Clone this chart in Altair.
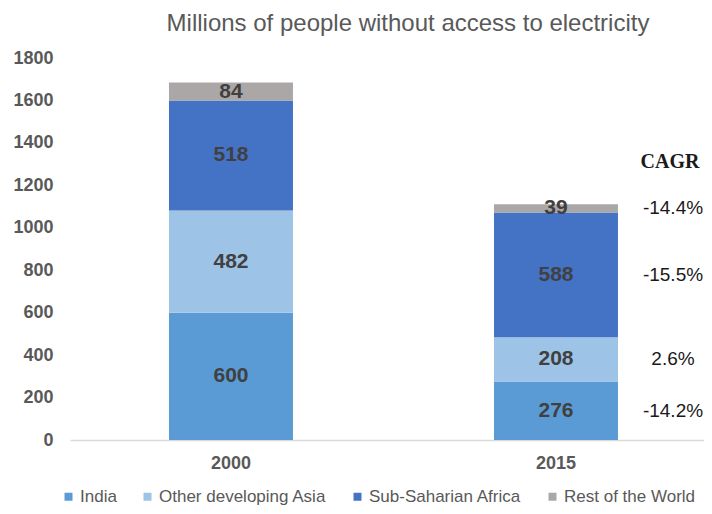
import altair as alt
import pandas as pd

years = ["2000", "2015"]
regions = ["India", "Other developing Asia", "Sub-Saharian Africa", "Rest of the World"]
values_2000 = [600, 482, 518, 84]
values_2015 = [276, 208, 588, 39]
cagr_labels = ["-14.2%", "2.6%", "-15.5%", "-14.4%"]
colors = ["#5B9BD5", "#9DC3E6", "#4472C4", "#ABA7A7"]
y_ticks = [0, 200, 400, 600, 800, 1000, 1200, 1400, 1600, 1800]

rows = []
for yr, vals in zip(years, [values_2000, values_2015]):
    base = 0
    for i, (reg, v) in enumerate(zip(regions, vals)):
        rows.append({"year": yr, "region": reg, "order": i, "value": v,
                     "start": base, "end": base + v, "mid": base + v / 2})
        base += v
df = pd.DataFrame(rows)

cagr_df = df[df["year"] == "2015"].copy()
cagr_df["cagr"] = cagr_labels
header_df = pd.DataFrame({"year": ["2015"], "y": [1310], "txt": ["CAGR"]})

FONT = "Liberation Sans"

x_enc = alt.X("year:N", title=None,
              scale=alt.Scale(paddingInner=0.6185, paddingOuter=0.2846, align=0.535),
              axis=alt.Axis(labelAngle=0, labelFont=FONT, labelFontSize=18, labelFontWeight="bold",
                            labelColor="#595959", labelPadding=14, ticks=False,
                            domainColor="#D9D9D9", domainWidth=1.5))

bars = alt.Chart(df).mark_bar(stroke=None).encode(
    x=x_enc,
    y=alt.Y("start:Q", title=None, scale=alt.Scale(domain=[0, 1800], nice=False),
            axis=alt.Axis(values=y_ticks, format="d", grid=False, domain=False, ticks=False,
                          labelFont=FONT, labelFontSize=18, labelFontWeight="bold",
                          labelColor="#595959", labelPadding=17)),
    y2="end:Q",
    color=alt.Color("region:N", sort=regions,
                    scale=alt.Scale(domain=regions, range=colors),
                    legend=alt.Legend(title=None, orient="none", direction="horizontal",
                                      legendX=-10, legendY=430, symbolType="square",
                                      symbolSize=64, symbolStrokeWidth=0, labelLimit=400,
                                      labelFont=FONT, labelFontSize=17, labelColor="#595959",
                                      columnPadding=22, symbolOffset=0, labelOffset=3)),
    order=alt.Order("order:Q"),
)

labels = alt.Chart(df).mark_text(font=FONT, fontSize=21, fontWeight="bold", color="#404040",
                                 baseline="middle").encode(
    x=alt.X("year:N"),
    y=alt.Y("mid:Q"),
    text=alt.Text("value:Q"),
)

cagr = alt.Chart(cagr_df).mark_text(font=FONT, fontSize=19, color="#1A1A1A", dx=117,
                                    baseline="middle", align="center").encode(
    x=alt.X("year:N"),
    y=alt.Y("mid:Q"),
    text="cagr:N",
)

header = alt.Chart(header_df).mark_text(font="Liberation Serif", fontSize=20, fontWeight="bold",
                                        color="#1A1A1A", dx=114, baseline="middle",
                                        align="center").encode(
    x=alt.X("year:N"),
    y=alt.Y("y:Q"),
    text="txt:N",
)

chart = alt.layer(bars, labels, cagr, header).properties(
    width=634, height=382,
    title=alt.TitleParams("Millions of people without access to electricity", font=FONT,
                          fontSize=24, fontWeight="normal", color="#595959",
                          anchor="middle", dx=21, offset=13),
    autosize=alt.AutoSizeParams(type="none"),
    padding={"left": 62, "top": 50, "right": 0, "bottom": 66},
).configure_view(stroke=None)

chart.save("out.html", embed_options={"renderer": "svg", "actions": False})
